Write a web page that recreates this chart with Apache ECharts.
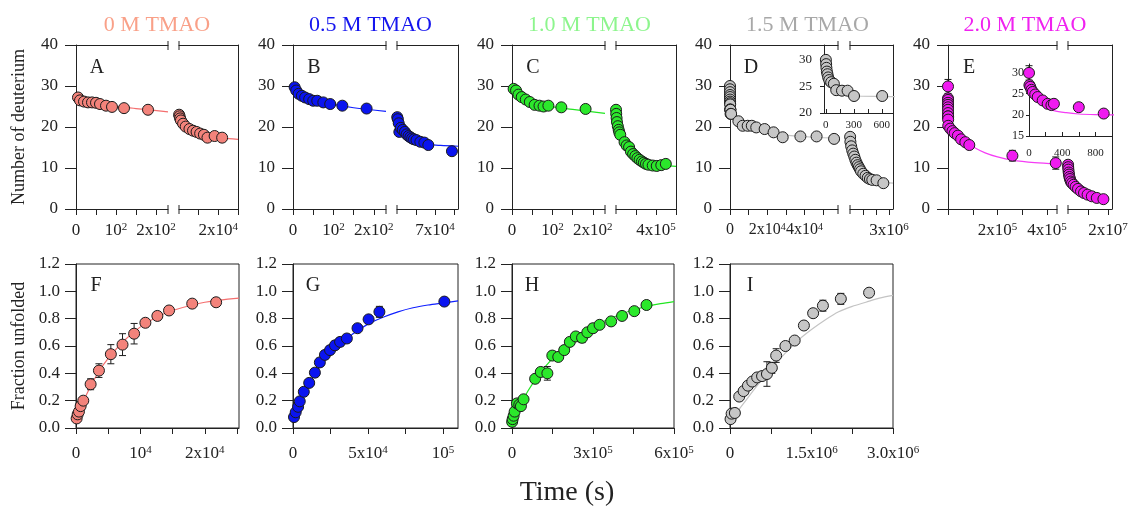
<!DOCTYPE html>
<html>
<head>
<meta charset="utf-8">
<title>TMAO hydrogen-deuterium exchange kinetics</title>
<script src="https://cdn.jsdelivr.net/npm/echarts@6/dist/echarts.min.js"></script>
<style>
  html, body { margin: 0; padding: 0; background: #fff; }
  #chart { width: 1133px; height: 507px; }
</style>
</head>
<body>
<div id="chart"></div>
<script>
// ---------------- data: times in s, deuterium counts, fraction unfolded ----------------
// 0 M TMAO
const aT1 = [5, 10, 20, 30, 40, 50, 60, 75, 90, 120, 180];
const aD1 = [27.2, 26.5, 26.2, 26.0, 26.0, 25.9, 25.6, 25.2, 24.9, 24.6, 24.2];
const aFitT1 = [0, 10, 30, 60, 100, 150, 230];
const aFitD1 = [27.2, 26.7, 26.1, 25.5, 25.0, 24.5, 23.7];
const aT2 = [300, 500, 800, 1200, 2300, 3600, 5500, 7300, 9100, 10900, 12800, 14600, 18200, 22000];
const aD2 = [23.0, 22.6, 22.1, 21.6, 20.8, 20.1, 19.5, 19.1, 18.8, 18.4, 18.1, 17.4, 17.8, 17.4];
const aFitT2 = [230, 1000, 2500, 5000, 8000, 12000, 16000, 22000, 30000];
const aFitD2 = [23.4, 22.3, 21.0, 19.8, 18.9, 18.1, 17.6, 17.3, 17.0];
const fT = [100, 260, 460, 720, 1130, 2270, 3560, 5410, 7220, 9020, 10770, 12630, 14440, 18040, 21750];
const fY = [0.07, 0.10, 0.12, 0.16, 0.20, 0.32, 0.42, 0.54, 0.61, 0.69, 0.77, 0.82, 0.86, 0.91, 0.92];
const fErr = [0.01, 0.01, 0.01, 0.01, 0.01, 0.04, 0.05, 0.07, 0.08, 0.075, 0.03, 0.03, 0.02, 0.02, 0.02];
const fFitT = [0, 1000, 2000, 3500, 5000, 7500, 10000, 12500, 15000, 20000, 25300];
const fFitY = [0.06, 0.18, 0.28, 0.41, 0.51, 0.64, 0.74, 0.81, 0.86, 0.92, 0.95];

// 0.5 M TMAO
const bT1 = [4, 8, 14, 22, 30, 40, 50, 60, 75, 92, 122, 182];
const bD1 = [29.7, 28.9, 28.1, 27.6, 27.2, 26.8, 26.4, 26.4, 26.0, 25.6, 25.2, 24.5];
const bFitT1 = [0, 20, 50, 100, 150, 230];
const bFitD1 = [29.8, 27.8, 26.6, 25.5, 24.7, 23.8];
const gT = [670, 1800, 3400, 4500, 7200, 10800, 14600, 17900, 21300, 24700, 28000, 31400, 35900, 43000, 50400, 57600, 100900];
const bD2 = [22.4, 21.9, 20.9, 18.8, 19.8, 19.3, 18.8, 18.2, 17.8, 17.5, 17.2, 17.0, 16.8, 16.4, 16.2, 15.6, 14.1];
const bFitT2 = [230, 3000, 8000, 15000, 25000, 40000, 60000, 80000, 112000];
const bFitD2 = [22.2, 20.6, 19.3, 18.3, 17.3, 16.3, 15.7, 15.5, 15.3];
const gY = [0.08, 0.115, 0.155, 0.195, 0.265, 0.33, 0.405, 0.48, 0.535, 0.57, 0.605, 0.63, 0.655, 0.73, 0.795, 0.85, 0.925];
const gErr = [0.01, 0.01, 0.01, 0.01, 0.02, 0.02, 0.03, 0.03, 0.03, 0.03, 0.03, 0.03, 0.02, 0.02, 0.02, 0.04, 0.01];
const gFitT = [0, 10000, 20000, 30000, 40000, 50000, 60000, 70000, 80000, 90000, 100000, 110000];
const gFitY = [0.07, 0.31, 0.48, 0.60, 0.69, 0.76, 0.81, 0.85, 0.88, 0.90, 0.915, 0.93];

// 1.0 M TMAO
const cT1 = [4, 10, 16, 24, 34, 44, 56, 68, 78, 90, 122, 182];
const cD1 = [29.3, 28.9, 27.9, 27.3, 26.7, 26.1, 25.4, 25.2, 25.0, 25.2, 24.8, 24.4];
const cFitT1 = [0, 20, 50, 100, 150, 230];
const cFitD1 = [29.5, 27.8, 26.0, 24.9, 24.3, 23.3];
const hT = [500, 2400, 6100, 9800, 18400, 26900, 33000, 42800, 85700, 106500, 131000, 149300, 171400, 193400, 214200, 236200, 259500, 279100, 299900, 324400, 367200, 407600, 452900, 498200];
const cD2 = [24.2, 23.2, 22.2, 21.2, 20.2, 19.3, 18.7, 18.1, 16.3, 15.5, 15.1, 14.0, 13.4, 12.9, 12.4, 12.0, 11.6, 11.3, 11.0, 10.8, 10.6, 10.5, 10.7, 11.0];
const cFitT2 = [230, 10000, 30000, 60000, 100000, 150000, 200000, 300000, 400000, 500000, 600000];
const cFitD2 = [24.0, 21.5, 19.0, 17.2, 15.6, 14.2, 13.1, 11.7, 10.9, 10.6, 10.4];
const hY = [0.045, 0.065, 0.09, 0.12, 0.18, 0.17, 0.16, 0.21, 0.36, 0.41, 0.40, 0.53, 0.52, 0.57, 0.63, 0.67, 0.66, 0.70, 0.73, 0.755, 0.78, 0.82, 0.855, 0.90];
const hErr = [0, 0, 0, 0, 0, 0, 0, 0, 0.01, 0.02, 0.05, 0.03, 0.01, 0.01, 0.02, 0.02, 0.035, 0.02, 0.03, 0.01, 0.01, 0.01, 0.01, 0.01];
const hFitT = [0, 50000, 100000, 150000, 200000, 250000, 300000, 350000, 400000, 450000, 500000, 550000, 600000];
const hFitY = [0.04, 0.24, 0.39, 0.51, 0.60, 0.68, 0.74, 0.79, 0.83, 0.865, 0.89, 0.91, 0.925];

// 1.5 M TMAO
const dT1 = [0, 3, 6, 11, 17, 25, 36, 57, 86, 111, 173, 233, 302, 604, 4500, 6800, 9500, 11700, 14100, 18600, 23400, 28300, 37800, 46500, 55900];
const dD1 = [30.0, 29.2, 28.5, 27.8, 27.3, 26.7, 26.2, 25.8, 25.5, 24.3, 24.2, 24.2, 23.2, 23.2, 21.4, 20.3, 20.3, 20.3, 19.9, 19.5, 18.7, 17.5, 17.7, 17.7, 17.1];
const dFitT1 = [0, 10, 25, 50, 100, 200, 300, 720, 2000, 5000, 10000, 20000, 30000, 45000, 58000];
const dFitD1 = [30.0, 28.3, 26.6, 25.3, 24.3, 23.5, 23.2, 23.1, 22.2, 21.2, 20.2, 18.8, 18.0, 17.5, 17.3];
const iT = [10000, 30000, 90000, 170000, 250000, 330000, 410000, 500000, 590000, 680000, 770000, 850000, 1020000, 1190000, 1360000, 1530000, 1710000, 2040000, 2560000];
const dD2 = [17.6, 16.4, 15.3, 14.3, 13.5, 12.8, 12.0, 11.3, 10.7, 10.2, 9.7, 9.2, 8.6, 8.1, 7.6, 7.3, 7.1, 7.0, 6.3];
const dFitT2 = [0, 100000, 300000, 600000, 1000000, 1500000, 2000000, 2500000, 3300000];
const dFitD2 = [17.5, 15.5, 12.8, 10.5, 8.8, 7.7, 7.0, 6.6, 6.3];
const iY = [0.065, 0.105, 0.11, 0.23, 0.27, 0.31, 0.34, 0.37, 0.38, 0.395, 0.44, 0.53, 0.60, 0.64, 0.75, 0.84, 0.895, 0.945, 0.99];
const iErr = [0, 0, 0, 0, 0, 0, 0, 0, 0, 0.09, 0.04, 0.05, 0, 0, 0, 0, 0.04, 0.04, 0.01];
const iFitT = [0, 250000, 500000, 750000, 1000000, 1250000, 1500000, 1750000, 2000000, 2250000, 2500000, 2750000, 3000000];
const iFitY = [0.05, 0.18, 0.31, 0.43, 0.54, 0.64, 0.72, 0.79, 0.85, 0.89, 0.92, 0.95, 0.97];

// 2.0 M TMAO
const eT1 = [0, 5, 15, 30, 45, 75, 105, 165, 225, 270, 300, 600, 900, 9000, 18000, 27000, 40000, 53000, 70000, 86000, 260000, 435000];
const eD1 = [29.9, 27.0, 26.6, 25.9, 25.4, 24.8, 24.2, 23.4, 22.6, 22.3, 22.6, 21.8, 20.3, 19.6, 19.0, 18.5, 17.9, 17.0, 16.3, 15.6, 13.0, 11.2];
const eErr1 = [1.7, 0.3, 0.3, 0.3, 0.3, 0.3, 0.3, 0.3, 0.3, 0.8, 0.8, 0.3, 0.3, 0, 0, 0, 0, 0, 0, 0, 1.3, 1.5];
const eFitT1 = [0, 20, 50, 100, 200, 300, 450, 600, 800, 1000, 10000, 30000, 60000, 100000, 150000, 200000, 260000, 350000, 440000];
const eFitD1 = [27.0, 25.4, 24.6, 23.2, 21.8, 21.0, 20.5, 20.2, 20.05, 20.0, 19.4, 18.2, 16.7, 15.2, 13.7, 12.7, 11.9, 11.3, 11.0];
const eT2 = [50000, 100000, 200000, 350000, 500000, 700000, 1000000, 1400000, 2000000, 2800000, 3800000, 5000000, 6500000, 8000000, 9800000, 11900000, 14400000, 17700000];
const eD2 = [10.8, 10.2, 9.6, 8.9, 8.4, 7.8, 7.3, 6.7, 6.3, 5.9, 5.4, 4.9, 4.3, 3.9, 3.5, 3.1, 2.7, 2.4];
const eErr2 = [1.0, 0.9, 0.9, 0.8, 0.6, 0.5, 0.4, 0.3, 0.3, 0.3, 0.2, 0.2, 0.2, 0.2, 0.2, 0.2, 0.2, 0.2];
const eFitT2 = [0, 300000, 1000000, 2000000, 4000000, 7000000, 10000000, 14000000, 18000000, 20000000];
const eFitD2 = [10.9, 9.0, 7.4, 6.3, 5.2, 4.1, 3.4, 2.8, 2.4, 2.3];

// ---------------- tick positions and tick labels ('^' starts an exponent) ----------------
const yTicksD = [0, 10, 20, 30, 40];
const yTicksF = [0, 0.2, 0.4, 0.6, 0.8, 1.0, 1.2];
const earlyTicks = [0, 50, 100, 150, 200];
const earlyLabels = [0, 100, 200];
const earlyTexts = ['0', '10^2', '2x10^2'];

// ---------------- styling ----------------
const FONT = '"Liberation Serif", "Times New Roman", serif';
const INK = '#222';
const TOP = { y: 45, h: 164 };
const BOT = { y: 264, h: 164 };
const colA = { l: 76, b1: 168, b2: 179, r: 238 };
const colB = { l: 293, b1: 386, b2: 397, r: 458 };
const colC = { l: 512, b1: 605, b2: 616, r: 676 };
const colD = { l: 730, b1: 838, b2: 850, r: 893 };
const colE = { l: 948, b1: 1057, b2: 1068, r: 1112 };
const pal = {
  a: { dot: '#F3837B', line: '#F46F6F', title: '#F9A088' },
  b: { dot: '#0A14F0', line: '#1020FF', title: '#1515EE' },
  c: { dot: '#2BE82B', line: '#22E622', title: '#8DF58D' },
  d: { dot: '#C6C6C6', line: '#C4C4C4', title: '#A8A8A8' },
  e: { dot: '#F01BF0', line: '#F53CF5', title: '#F022F0' }
};

const grids = [], xAxes = [], yAxes = [], series = [], graphics = [];

function rich(fs) {
  return {
    b: { fontFamily: FONT, fontSize: fs, color: INK },
    s: { fontFamily: FONT, fontSize: Math.round(fs * 0.64), color: INK, verticalAlign: 'top' }
  };
}
function richLabel(txt) {
  const i = txt.indexOf('^');
  if (i < 0) return '{b|' + txt + '}';
  return '{b|' + txt.slice(0, i) + '}{s|' + txt.slice(i + 1) + '}';
}
function labelFmt(values, texts) {
  return function (v) {
    for (let k = 0; k < values.length; k++) {
      if (Math.abs(values[k] - v) <= 1e-6 * Math.max(1, Math.abs(v))) return richLabel(texts[k]);
    }
    return '';
  };
}
function axis(gi, o) {
  const a = {
    type: 'value', gridIndex: gi, min: o.min, max: o.max, position: o.pos,
    axisLine: { show: true, onZero: false, lineStyle: { color: INK, width: 1 } },
    axisTick: { show: false },
    axisLabel: { show: false },
    splitLine: { show: false }
  };
  if (o.ticks) a.axisTick = { show: true, customValues: o.ticks, length: o.tickLen, inside: !!o.inside, lineStyle: { color: INK, width: 1 } };
  if (o.labels) a.axisLabel = {
    show: true, customValues: o.labels, margin: o.margin,
    showMinLabel: true, showMaxLabel: true, hideOverlap: false,
    formatter: labelFmt(o.labels, o.texts),
    fontFamily: FONT, fontSize: o.fs, color: INK, rich: rich(o.fs)
  };
  return a;
}
function errorBar(params, api) {
  const x = api.value(0), y = api.value(1), e = api.value(2);
  if (!e) return { type: 'group', children: [] };
  const lo = api.coord([x, y - e]), hi = api.coord([x, y + e]);
  const w = 3.5, st = { stroke: '#1b1b1b', lineWidth: 1 };
  return {
    type: 'group', children: [
      { type: 'line', shape: { x1: lo[0], y1: lo[1], x2: hi[0], y2: hi[1] }, style: st },
      { type: 'line', shape: { x1: lo[0] - w, y1: lo[1], x2: lo[0] + w, y2: lo[1] }, style: st },
      { type: 'line', shape: { x1: hi[0] - w, y1: hi[1], x2: hi[0] + w, y2: hi[1] }, style: st }
    ]
  };
}
function addLayers(xi, yi, layers, c) {
  layers.forEach(function (L) {
    if (L.fitT) series.push({
      type: 'line', xAxisIndex: xi, yAxisIndex: yi, silent: true, z: 2,
      data: L.fitT.map((t, i) => [t, L.fitV[i]]), symbol: 'none',
      smooth: 0.3, lineStyle: { color: c.line, width: 1.2 }
    });
    if (L.err) series.push({
      type: 'custom', xAxisIndex: xi, yAxisIndex: yi, silent: true, z: 3,
      coordinateSystem: 'cartesian2d', encode: { x: 0, y: 1 },
      data: L.t.map((t, i) => [t, L.v[i], L.err[i]]), renderItem: errorBar
    });
    if (L.t) series.push({
      type: 'scatter', xAxisIndex: xi, yAxisIndex: yi, silent: true, z: 4,
      data: L.t.map((t, i) => [t, L.v[i]]), symbol: 'circle', symbolSize: 11,
      itemStyle: { color: c.dot, borderColor: '#1b1b1b', borderWidth: 1, opacity: 1 }
    });
  });
}
// one plotting area: bottom x axis, a y axis, optional extra plain axes
function addPlot(rect, xo, yo, extra, layers, c) {
  const gi = grids.push({
    left: rect.l, top: rect.t, width: rect.r - rect.l, height: rect.b - rect.t,
    show: !!rect.box, borderColor: INK, borderWidth: 1, backgroundColor: 'transparent'
  }) - 1;
  const xi = xAxes.push(axis(gi, Object.assign({ pos: 'bottom' }, xo))) - 1;
  const yi = yAxes.push(axis(gi, yo)) - 1;
  (extra || []).forEach(function (a) {
    (a.dim === 'x' ? xAxes : yAxes).push(axis(gi, a));
  });
  addLayers(xi, yi, layers, c);
}

const yLeftTop = { min: 0, max: 40, pos: 'left', ticks: yTicksD, tickLen: 11, labels: yTicksD, texts: yTicksD.map(String), margin: 18, fs: 17 };
const yRightTop = { min: 0, max: 40, pos: 'right' };
const xTopLine = (min, max) => ({ dim: 'x', min: min, max: max, pos: 'top' });

// top row: each panel split into an early and a late time segment
function topPanel(col, c, left, right) {
  addPlot({ l: col.l, r: col.b1, t: TOP.y, b: TOP.y + TOP.h },
    Object.assign({ tickLen: 6, margin: 13, fs: 17 }, left.x), yLeftTop,
    [xTopLine(left.x.min, left.x.max)], left.layers, c);
  addPlot({ l: col.b2, r: col.r, t: TOP.y, b: TOP.y + TOP.h },
    Object.assign({ tickLen: 6, margin: 13, fs: 17 }, right.x), yRightTop,
    [xTopLine(right.x.min, right.x.max)], right.layers, c);
  // axis-break bars on the top and bottom frame lines
  [col.b1, col.b2].forEach(function (x) {
    [TOP.y, TOP.y + TOP.h].forEach(function (y) {
      graphics.push({ type: 'line', silent: true, z: 10, shape: { x1: x, y1: y - 4, x2: x, y2: y + 5 }, style: { stroke: INK, lineWidth: 1 } });
    });
  });
}

const early = { min: 0, max: 230, ticks: earlyTicks, labels: earlyLabels, texts: earlyTexts };

topPanel(colA, pal.a,
  { x: early, layers: [{ fitT: aFitT1, fitV: aFitD1 }, { t: aT1, v: aD1 }] },
  { x: { min: 230, max: 30000, ticks: [10000, 20000, 30000], labels: [20000], texts: ['2x10^4'] },
    layers: [{ fitT: aFitT2, fitV: aFitD2 }, { t: aT2, v: aD2 }] });
topPanel(colB, pal.b,
  { x: early, layers: [{ fitT: bFitT1, fitV: bFitD1 }, { t: bT1, v: bD1 }] },
  { x: { min: 230, max: 112000, ticks: [35000, 70000, 105000], labels: [70000], texts: ['7x10^4'] },
    layers: [{ fitT: bFitT2, fitV: bFitD2 }, { t: gT, v: bD2 }] });
topPanel(colC, pal.c,
  { x: early, layers: [{ fitT: cFitT1, fitV: cFitD1 }, { t: cT1, v: cD1 }] },
  { x: { min: 230, max: 600000, ticks: [200000, 400000, 600000], labels: [400000], texts: ['4x10^5'] },
    layers: [{ fitT: cFitT2, fitV: cFitD2 }, { t: hT, v: cD2 }] });
topPanel(colD, pal.d,
  { x: { min: 0, max: 58000, ticks: [0, 10000, 20000, 30000, 40000, 50000], labels: [0, 20000, 40000], texts: ['0', '2x10^4', '4x10^4'], fs: 16 },
    layers: [{ fitT: dFitT1, fitV: dFitD1 }, { t: dT1, v: dD1 }] },
  { x: { min: 0, max: 3300000, ticks: [1000000, 2000000, 3000000], labels: [3000000], texts: ['3x10^6'] },
    layers: [{ fitT: dFitT2, fitV: dFitD2 }, { t: iT, v: dD2 }] });
topPanel(colE, pal.e,
  { x: { min: 0, max: 440000, ticks: [0, 100000, 200000, 300000, 400000], labels: [200000, 400000], texts: ['2x10^5', '4x10^5'] },
    layers: [{ fitT: eFitT1, fitV: eFitD1 }, { t: eT1, v: eD1, err: eErr1 }] },
  { x: { min: 0, max: 22000000, ticks: [10000000, 20000000], labels: [20000000], texts: ['2x10^7'] },
    layers: [{ fitT: eFitT2, fitV: eFitD2 }, { t: eT2, v: eD2, err: eErr2 }] });

// insets with the first minutes of exchange
addPlot({ l: 824, r: colD.r, t: TOP.y, b: 113 },
  { min: -20, max: 720, ticks: [0, 150, 300, 450, 600], tickLen: 4, inside: true, labels: [0, 300, 600], texts: ['0', '300', '600'], margin: 7, fs: 11 },
  { min: 20, max: 32.8, pos: 'left', ticks: [20, 25, 30], tickLen: 4, labels: [20, 25, 30], texts: ['20', '25', '30'], margin: 12, fs: 13 },
  null, [{ fitT: dFitT1, fitV: dFitD1 }, { t: dT1, v: dD1 }], pal.d);
addPlot({ l: 1029, r: colE.r, t: 64, b: 136 },
  { min: 0, max: 1000, ticks: [0, 200, 400, 600, 800, 1000], tickLen: 4, inside: true, labels: [0, 400, 800], texts: ['0', '400', '800'], margin: 12, fs: 11 },
  { min: 15, max: 32, pos: 'left', ticks: [15, 20, 25, 30], tickLen: 3, labels: [15, 20, 25, 30], texts: ['15', '20', '25', '30'], margin: 5, fs: 12 },
  null, [{ fitT: eFitT1, fitV: eFitD1 }, { t: eT1, v: eD1, err: eErr1 }], pal.e);

// bottom row: fraction unfolded
const yFrac = { min: 0, max: 1.2, pos: 'left', ticks: yTicksF, tickLen: 11, labels: yTicksF, texts: yTicksF.map(v => v.toFixed(1)), margin: 16, fs: 17 };
function botPanel(l, r, x, layers, c) {
  addPlot({ l: l, r: r, t: BOT.y, b: BOT.y + BOT.h, box: true },
    Object.assign({ tickLen: 6, margin: 17, fs: 17 }, x), yFrac, null, layers, c);
}
botPanel(76, 239, { min: 0, max: 25300, ticks: [0, 5000, 10000, 15000, 20000, 25000], labels: [0, 10000, 20000], texts: ['0', '10^4', '2x10^4'] },
  [{ fitT: fFitT, fitV: fFitY }, { t: fT, v: fY, err: fErr }], pal.a);
botPanel(293, 458, { min: 0, max: 110000, ticks: [0, 25000, 50000, 75000, 100000], labels: [0, 50000, 100000], texts: ['0', '5x10^4', '10^5'] },
  [{ fitT: gFitT, fitV: gFitY }, { t: gT, v: gY, err: gErr }], pal.b);
botPanel(512, 674, { min: 0, max: 600000, ticks: [0, 150000, 300000, 450000, 600000], labels: [0, 300000, 600000], texts: ['0', '3x10^5', '6x10^5'] },
  [{ fitT: hFitT, fitV: hFitY }, { t: hT, v: hY, err: hErr }], pal.c);
botPanel(730, 893, { min: 0, max: 3000000, ticks: [0, 750000, 1500000, 2250000, 3000000], labels: [0, 1500000, 3000000], texts: ['0', '1.5x10^6', '3.0x10^6'] },
  [{ fitT: iFitT, fitV: iFitY }, { t: iT, v: iY, err: iErr }], pal.d);

// ---------------- text: titles, panel letters, axis names ----------------
function text(x, y, s, fs, color, rot) {
  graphics.push({
    type: 'text', x: x, y: y, rotation: rot || 0, silent: true, z: 10,
    style: { text: s, fontFamily: FONT, fontSize: fs, fill: color || INK, align: 'center', verticalAlign: 'middle' }
  });
}
text(157, 25, '0 M TMAO', 22, pal.a.title);
text(370.5, 25, '0.5 M TMAO', 22, pal.b.title);
text(589.5, 25, '1.0 M TMAO', 22, pal.c.title);
text(807.5, 25, '1.5 M TMAO', 22, pal.d.title);
text(1025, 25, '2.0 M TMAO', 22, pal.e.title);
[['A', colA.l], ['B', colB.l], ['C', colC.l], ['D', colD.l], ['E', colE.l]].forEach(p => text(p[1] + 21, 68, p[0], 20));
[['F', 76], ['G', 293], ['H', 512], ['I', 730]].forEach(p => text(p[1] + 20, 286, p[0], 20));
text(19, 127, 'Number of deuterium', 18, INK, Math.PI / 2);
text(19, 346, 'Fraction unfolded', 18, INK, Math.PI / 2);
text(567, 493, 'Time (s)', 28, INK);

const chart = echarts.init(document.getElementById('chart'), null, { renderer: 'canvas' });
chart.setOption({
  animation: false,
  backgroundColor: '#fff',
  grid: grids,
  xAxis: xAxes,
  yAxis: yAxes,
  series: series,
  graphic: graphics
});
</script>
</body>
</html>
